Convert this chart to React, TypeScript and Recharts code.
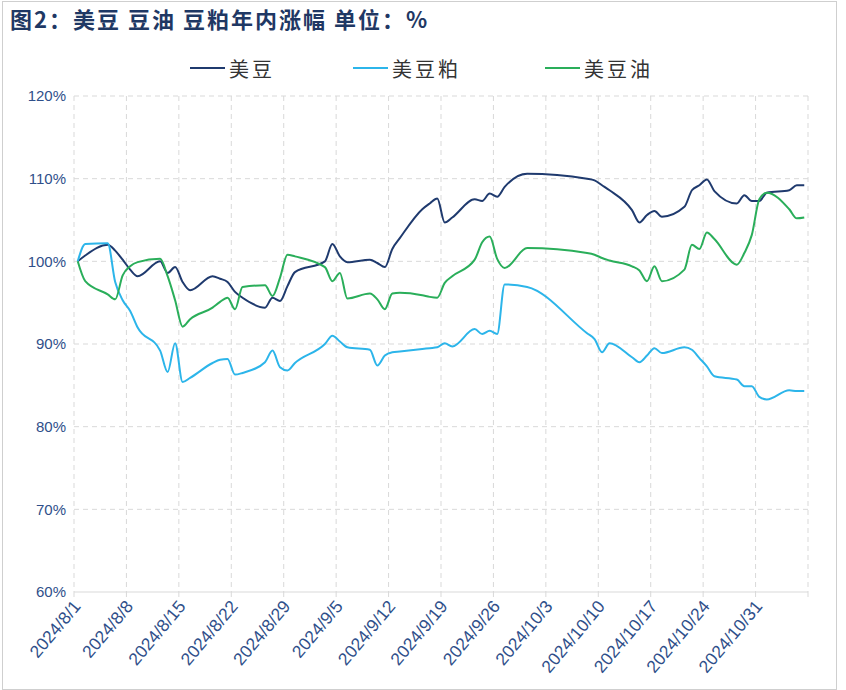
import React from 'react';
import { LineChart, Line, XAxis, YAxis, CartesianGrid } from 'recharts';

// trading days (2024), CN holiday gap in early Oct
const dates = [
  '8/1', '8/2', '8/5', '8/6', '8/7', '8/8', '8/9',
  '8/12', '8/13', '8/14', '8/15', '8/16',
  '8/19', '8/20', '8/21', '8/22', '8/23',
  '8/26', '8/27', '8/28', '8/29', '8/30',
  '9/3', '9/4', '9/5', '9/6',
  '9/9', '9/10', '9/11', '9/12', '9/13',
  '9/16', '9/17', '9/18', '9/19', '9/20',
  '9/23', '9/24', '9/25', '9/26', '9/27',
  '9/30',
  '10/8', '10/9', '10/10', '10/11',
  '10/14', '10/15', '10/16', '10/17', '10/18',
  '10/21', '10/22', '10/23', '10/24', '10/25',
  '10/28', '10/29', '10/30', '10/31',
  '11/1',
  '11/4', '11/5', '11/6',
];

// 美豆
const soy = [
  100.0, 100.7, 102.0, 101.3, 100.2, 99.0, 98.2,
  100.0, 98.6, 99.3, 97.5, 96.5,
  98.2, 97.9, 97.5, 96.3, 95.6,
  94.4, 95.6, 95.2, 97.0, 98.7,
  100.0, 102.1, 100.6, 99.9,
  100.2, 99.8, 99.3, 101.5, 102.8,
  106.3, 107.0, 107.6, 104.7, 105.3,
  107.5, 107.3, 108.2, 107.8, 109.0,
  110.6,
  110.0, 109.8, 109.2, 108.6,
  106.2, 104.7, 105.6, 106.1, 105.4,
  106.6, 108.6, 109.2, 109.9, 108.5,
  107.0, 108.0, 107.3, 107.3,
  108.3,
  108.6, 109.2, 109.2,
];

// 美豆粕
const meal = [
  100.0, 102.1, 102.2, 97.5, 95.3, 94.0, 92.0,
  89.2, 86.6, 90.1, 85.4, 85.9,
  87.7, 88.1, 88.2, 86.3, 86.5,
  87.8, 89.2, 87.2, 86.8, 87.7,
  90.0, 91.0, 90.3, 89.6,
  89.3, 87.4, 88.6, 89.0, 89.1,
  89.4, 89.5, 89.6, 90.1, 89.7,
  91.8, 91.2, 91.6, 91.2, 97.2,
  96.9,
  91.3, 90.6, 89.0, 90.1,
  88.4, 87.8, 88.6, 89.5, 88.9,
  89.6, 89.3, 88.3, 87.3, 86.1,
  85.7, 84.9, 84.9, 83.6,
  83.3,
  84.4, 84.3, 84.3,
];

// 美豆油
const oil = [
  100.0, 97.6, 96.0, 95.4, 98.3, 99.4, 99.9,
  100.3, 98.2, 95.3, 92.1, 93.0,
  94.4, 95.1, 95.6, 94.2, 96.9,
  97.1, 95.8, 98.0, 100.8, 100.6,
  99.3, 97.6, 98.6, 95.5,
  96.1, 95.4, 94.2, 96.1, 96.2,
  95.9, 95.7, 95.6, 97.4, 98.2,
  100.2, 102.3, 103.0, 100.3, 99.2,
  101.6,
  101.0, 100.8, 100.4, 100.1,
  99.4, 98.9, 97.6, 99.4, 97.6,
  99.0, 102.0, 101.5, 103.5, 102.7,
  99.6, 101.0, 103.2, 107.5,
  108.3,
  106.3, 105.2, 105.3,
];

const tickLabels = [
  '2024/8/1', '2024/8/8', '2024/8/15', '2024/8/22', '2024/8/29', '2024/9/5', '2024/9/12',
  '2024/9/19', '2024/9/26', '2024/10/3', '2024/10/10', '2024/10/17', '2024/10/24', '2024/10/31',
];
const yTicks = [60, 70, 80, 90, 100, 110, 120];

const NAVY = '#1f3a6e';
const BLUE = '#2cb5ea';
const GREEN = '#2aae5a';
const TEXT = '#2f4f8a';

const day0 = Date.UTC(2024, 7, 1);
const dayOf = (s: string) => {
  const [y, m, d] = s.split('/').map(Number);
  return Math.round((Date.UTC(y, m - 1, d) - day0) / 86400000);
};
const labelOf = (day: number) => {
  const dt = new Date(day0 + day * 86400000);
  return `${dt.getUTCFullYear()}/${dt.getUTCMonth() + 1}/${dt.getUTCDate()}`;
};

// each date sits in the middle of its day slot
const data = dates.map((d, i) => ({
  x: dayOf('2024/' + d) + 0.5,
  soy: soy[i],
  meal: meal[i],
  oil: oil[i],
}));
const xTicks = [...tickLabels.map(dayOf), 98];

const XTick = (props: any) => {
  const { x, y, payload } = props;
  if (payload.value > 95) return <g />;
  return (
    <text
      transform={`translate(${x + 3},${y + 4}) rotate(-50)`}
      textAnchor="end"
      dominantBaseline="central"
      fill={TEXT}
      fontSize={17.5}
      fontFamily="'Liberation Sans', Arial, sans-serif"
    >
      {labelOf(payload.value)}
    </text>
  );
};

const legendItems = [
  { name: '美豆', color: NAVY, left: 190 },
  { name: '美豆粕', color: BLUE, left: 353 },
  { name: '美豆油', color: GREEN, left: 545 },
];

export default function App() {
  return (
    <div style={{ position: 'absolute', left: 0, top: 0, width: 846, height: 690, background: '#fff' }}>
      <div style={{ position: 'absolute', left: 2, top: 1, width: 833, height: 687, border: '1px solid #cfcfcf' }} />
      <div
        style={{
          position: 'absolute', left: 10, top: 4, fontSize: 22, fontWeight: 'bold', color: '#1f3864',
          fontFamily: "'Noto Sans CJK SC', 'Noto Sans', sans-serif", whiteSpace: 'pre', lineHeight: '28px',
          letterSpacing: 2,
        }}
      >
        图2：美豆 豆油 豆粕年内涨幅 单位：%
      </div>
      {legendItems.map((it) => (
        <div
          key={it.name}
          style={{ position: 'absolute', left: it.left, top: 54, height: 28, display: 'flex', alignItems: 'center' }}
        >
          <div style={{ width: 35, height: 2, background: it.color, marginRight: 4 }} />
          <span style={{ fontSize: 20, color: '#333', fontFamily: "'Noto Sans CJK SC', serif", letterSpacing: 3 }}>
            {it.name}
          </span>
        </div>
      ))}
      <div style={{ position: 'absolute', left: 0, top: 0 }}>
        <LineChart width={846} height={690} data={data} margin={{ top: 96, right: 38, left: 14, bottom: 8 }}>
          <CartesianGrid stroke="#d9d9d9" strokeDasharray="5 4" horizontalValues={[70, 80, 90, 100, 110, 120]} />
          <XAxis
            dataKey="x"
            type="number"
            domain={[0, 98]}
            ticks={xTicks}
            interval={0}
            height={90}
            tick={<XTick />}
            axisLine={{ stroke: '#d9d9d9' }}
            tickLine={{ stroke: '#d9d9d9' }}
            tickSize={5}
          />
          <YAxis
            type="number"
            domain={[60, 120]}
            ticks={yTicks}
            interval={0}
            width={60}
            axisLine={false}
            tickLine={false}
            tickFormatter={(v: number) => `${v}%`}
            tick={{ fill: TEXT, fontSize: 15, fontFamily: "'Liberation Sans', Arial, sans-serif" }}
          />
          <Line type="monotone" dataKey="soy" stroke={NAVY} strokeWidth={2} dot={false} isAnimationActive={false} />
          <Line type="monotone" dataKey="meal" stroke={BLUE} strokeWidth={2} dot={false} isAnimationActive={false} />
          <Line type="monotone" dataKey="oil" stroke={GREEN} strokeWidth={2} dot={false} isAnimationActive={false} />
        </LineChart>
      </div>
    </div>
  );
}
